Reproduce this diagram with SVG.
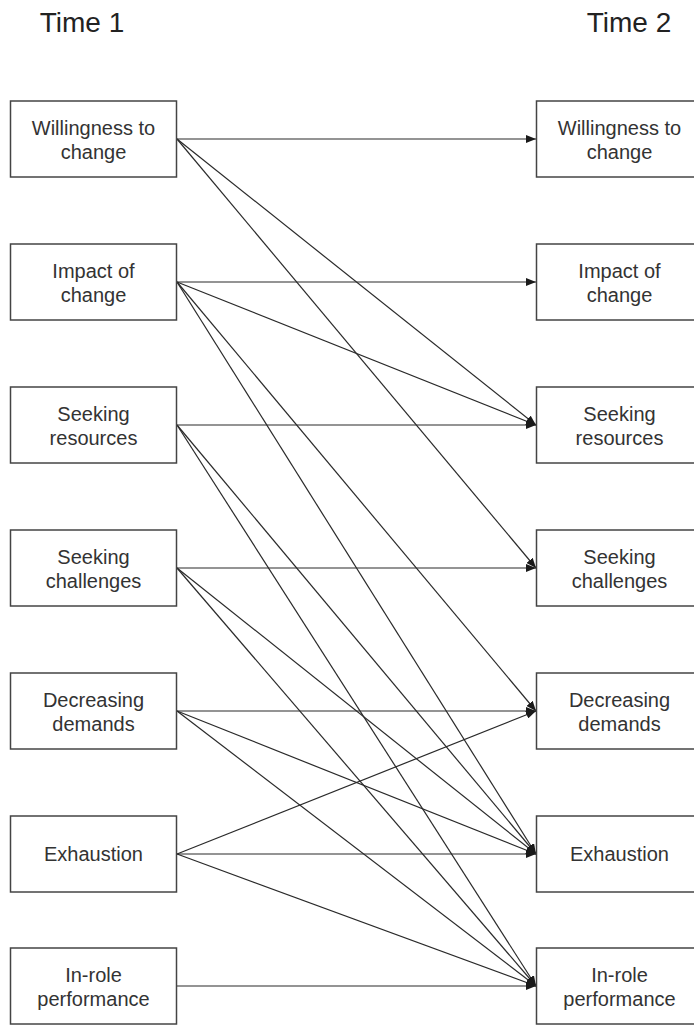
<svg xmlns="http://www.w3.org/2000/svg" width="694" height="1026" viewBox="0 0 694 1026">
  <style>
    .box { fill: #ffffff; stroke: #444444; stroke-width: 1.5; }
    .lbl { font-family: "Liberation Sans", Arial, sans-serif; font-size: 20px; fill: #333333; text-anchor: middle; }
    .ttl { font-family: "Liberation Sans", Arial, sans-serif; font-size: 28px; fill: #222222; text-anchor: middle; }
    .edge { stroke: #2a2a2a; stroke-width: 1.2; fill: none; marker-end: url(#arrow); }
  </style>
  <defs>
    <marker id="arrow" markerUnits="userSpaceOnUse" markerWidth="10" markerHeight="8" refX="10" refY="4" orient="auto">
      <path d="M0,0 L10,4 L0,8 z" fill="#1a1a1a"/>
    </marker>
  </defs>
  <rect width="694" height="1026" fill="#ffffff"/>

  <text class="ttl" x="82" y="32">Time 1</text>
  <text class="ttl" x="629" y="32">Time 2</text>

  <!-- connectors: from right edge of Time 1 boxes (x=177) to left edge of Time 2 boxes (x=536) -->
  <g id="connectors">
    <!-- Willingness to change -->
    <line class="edge" x1="177" y1="139" x2="536" y2="139"/>
    <line class="edge" x1="177" y1="139" x2="536" y2="425"/>
    <line class="edge" x1="177" y1="139" x2="536" y2="568"/>
    <!-- Impact of change -->
    <line class="edge" x1="177" y1="282" x2="536" y2="282"/>
    <line class="edge" x1="177" y1="282" x2="536" y2="425"/>
    <line class="edge" x1="177" y1="282" x2="536" y2="711"/>
    <line class="edge" x1="177" y1="282" x2="536" y2="854"/>
    <!-- Seeking resources -->
    <line class="edge" x1="177" y1="425" x2="536" y2="425"/>
    <line class="edge" x1="177" y1="425" x2="536" y2="854"/>
    <line class="edge" x1="177" y1="425" x2="536" y2="986"/>
    <!-- Seeking challenges -->
    <line class="edge" x1="177" y1="568" x2="536" y2="568"/>
    <line class="edge" x1="177" y1="568" x2="536" y2="854"/>
    <line class="edge" x1="177" y1="568" x2="536" y2="986"/>
    <!-- Decreasing demands -->
    <line class="edge" x1="177" y1="711" x2="536" y2="711"/>
    <line class="edge" x1="177" y1="711" x2="536" y2="854"/>
    <line class="edge" x1="177" y1="711" x2="536" y2="986"/>
    <!-- Exhaustion -->
    <line class="edge" x1="177" y1="854" x2="536" y2="711"/>
    <line class="edge" x1="177" y1="854" x2="536" y2="854"/>
    <line class="edge" x1="177" y1="854" x2="536" y2="986"/>
    <!-- In-role performance -->
    <line class="edge" x1="177" y1="986" x2="536" y2="986"/>
  </g>

  <!-- Time 1 -->
  <g id="t1-willingness">
    <rect class="box" x="10.5" y="101" width="166" height="76"/>
    <text class="lbl" x="93.5" y="135">Willingness to</text>
    <text class="lbl" x="93.5" y="158.5">change</text>
  </g>
  <g id="t1-impact">
    <rect class="box" x="10.5" y="244" width="166" height="76"/>
    <text class="lbl" x="93.5" y="278">Impact of</text>
    <text class="lbl" x="93.5" y="301.5">change</text>
  </g>
  <g id="t1-resources">
    <rect class="box" x="10.5" y="387" width="166" height="76"/>
    <text class="lbl" x="93.5" y="421">Seeking</text>
    <text class="lbl" x="93.5" y="444.5">resources</text>
  </g>
  <g id="t1-challenges">
    <rect class="box" x="10.5" y="530" width="166" height="76"/>
    <text class="lbl" x="93.5" y="564">Seeking</text>
    <text class="lbl" x="93.5" y="587.5">challenges</text>
  </g>
  <g id="t1-demands">
    <rect class="box" x="10.5" y="673" width="166" height="76"/>
    <text class="lbl" x="93.5" y="707">Decreasing</text>
    <text class="lbl" x="93.5" y="730.5">demands</text>
  </g>
  <g id="t1-exhaustion">
    <rect class="box" x="10.5" y="816" width="166" height="76"/>
    <text class="lbl" x="93.5" y="861">Exhaustion</text>
  </g>
  <g id="t1-performance">
    <rect class="box" x="10.5" y="948" width="166" height="76"/>
    <text class="lbl" x="93.5" y="982">In-role</text>
    <text class="lbl" x="93.5" y="1005.5">performance</text>
  </g>

  <!-- Time 2 -->
  <g id="t2-willingness">
    <rect class="box" x="536.5" y="101" width="166" height="76"/>
    <text class="lbl" x="619.5" y="135">Willingness to</text>
    <text class="lbl" x="619.5" y="158.5">change</text>
  </g>
  <g id="t2-impact">
    <rect class="box" x="536.5" y="244" width="166" height="76"/>
    <text class="lbl" x="619.5" y="278">Impact of</text>
    <text class="lbl" x="619.5" y="301.5">change</text>
  </g>
  <g id="t2-resources">
    <rect class="box" x="536.5" y="387" width="166" height="76"/>
    <text class="lbl" x="619.5" y="421">Seeking</text>
    <text class="lbl" x="619.5" y="444.5">resources</text>
  </g>
  <g id="t2-challenges">
    <rect class="box" x="536.5" y="530" width="166" height="76"/>
    <text class="lbl" x="619.5" y="564">Seeking</text>
    <text class="lbl" x="619.5" y="587.5">challenges</text>
  </g>
  <g id="t2-demands">
    <rect class="box" x="536.5" y="673" width="166" height="76"/>
    <text class="lbl" x="619.5" y="707">Decreasing</text>
    <text class="lbl" x="619.5" y="730.5">demands</text>
  </g>
  <g id="t2-exhaustion">
    <rect class="box" x="536.5" y="816" width="166" height="76"/>
    <text class="lbl" x="619.5" y="861">Exhaustion</text>
  </g>
  <g id="t2-performance">
    <rect class="box" x="536.5" y="948" width="166" height="76"/>
    <text class="lbl" x="619.5" y="982">In-role</text>
    <text class="lbl" x="619.5" y="1005.5">performance</text>
  </g>
</svg>
